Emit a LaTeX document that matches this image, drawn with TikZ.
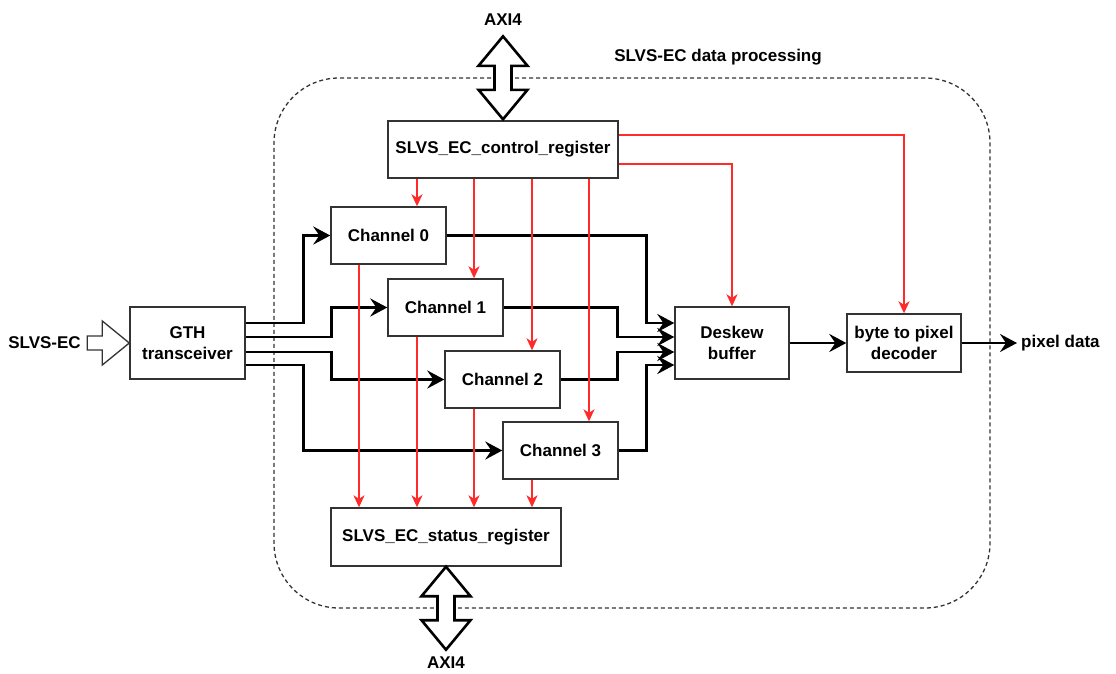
\documentclass[tikz,border=0pt]{standalone}
\usepackage{fontspec}
\setmainfont{Liberation Sans}
\usetikzlibrary{arrows.meta,calc}
\definecolor{boxgray}{HTML}{333333}
\definecolor{redc}{HTML}{FF2A2A}
\definecolor{dashc}{HTML}{333333}
\begin{document}
\begin{tikzpicture}[x=1pt,y=-1pt,
  font=\bfseries\fontsize{17}{21}\selectfont,
  box/.style={draw=boxgray, line width=1.4pt, fill=white, minimum width=115pt, minimum height=57pt, inner sep=0pt, align=center},
  blk/.style={line width=2.6pt, -{Stealth[length=17pt,width=18pt,inset=6pt]}},
  redl/.style={draw=redc, line width=1.5pt, -{Stealth[length=12pt,width=11pt,inset=3.5pt]}},
  lbl/.style={inner sep=0pt},
  axi/.pic={\draw[line width=2.6pt, fill=white, line join=miter]
      (0,0) -- (24.5,29.5) -- (8.5,29.5) -- (8.5,53.5) -- (24.5,53.5) -- (0,83)
      -- (-24.5,53.5) -- (-8.5,53.5) -- (-8.5,29.5) -- (-24.5,29.5) -- cycle;},
  inarrow/.pic={\draw[line width=1.3pt, draw=boxgray, fill=white, line join=miter]
      (0,0) -- (-27,-22) -- (-27,-7) -- (-42,-7) -- (-42,7) -- (-27,7) -- (-27,22) -- cycle;}
]
\useasboundingbox (0,0) rectangle (1116,673);

% container
\node[draw=dashc, line width=1.3pt, dash pattern=on 4pt off 3pt, rounded corners=65pt,
      minimum width=716pt, minimum height=530pt, inner sep=0pt] (frame) at (632,343) {};
\node[lbl] (ftitle) at (718,57) {SLVS-EC data processing};

% boxes
\node[box, minimum height=72pt] (gth) at (187.5,343) {GTH\\transceiver};
\node[box, minimum width=230pt] (ctrl) at (503,149.5) {SLVS\_EC\_control\_register};
\node[box] (ch0) at (388.5,235.5) {Channel 0};
\node[box] (ch1) at (445.5,307.5) {Channel 1};
\node[box] (ch2) at (502.5,379.5) {Channel 2};
\node[box] (ch3) at (560.5,450.5) {Channel 3};
\node[box, minimum width=230pt, minimum height=58pt] (stat) at (446,537) {SLVS\_EC\_status\_register};
\node[box, minimum width=114pt, minimum height=72pt] (desk) at (732,343) {Deskew\\buffer};
\node[box, minimum width=114pt, minimum height=58pt] (dec) at (904,343) {byte to pixel\\decoder};

% labels
\node[lbl] (inl) at (44.5,343) {SLVS-EC};
\node[lbl, anchor=west] (pix) at (1021,343) {pixel data};
\node[lbl] (axiT) at (503,20) {AXI4};
\node[lbl] (axiB) at (446,663) {AXI4};

% block arrows
\pic at (gth.west) {inarrow};
\pic at ([yshift=84pt]ctrl.north) {axi};
\pic at (stat.south) {axi};

% black data paths
\draw[blk] ([yshift=20pt]gth.east) -- ++(58,0) |- (ch0.west);
\draw[blk] ([yshift=6pt]gth.east) -- ++(86,0) |- (ch1.west);
\draw[blk] ([yshift=-9pt]gth.east) -- ++(86,0) |- (ch2.west);
\draw[blk] ([yshift=-22pt]gth.east) -- ++(58,0) |- (ch3.west);

\draw[blk] (ch0.east) -| ([xshift=-28pt,yshift=20pt]desk.west) -- ([yshift=20pt]desk.west);
\draw[blk] (ch1.east) -| ([xshift=-57pt,yshift=6pt]desk.west) -- ([yshift=6pt]desk.west);
\draw[blk] (ch2.east) -| ([xshift=-57pt,yshift=-9pt]desk.west) -- ([yshift=-9pt]desk.west);
\draw[blk] (ch3.east) -| ([xshift=-28pt,yshift=-22pt]desk.west) -- ([yshift=-22pt]desk.west);

\draw[blk] (desk.east) -- (dec.west);
\draw[blk] (dec.east) -- ([xshift=-4pt]pix.west);

% red control lines
\coordinate (r0) at ([xshift=-86pt]ctrl.south);
\coordinate (r1) at ([xshift=-29pt]ctrl.south);
\coordinate (r2) at ([xshift=29pt]ctrl.south);
\coordinate (r3) at ([xshift=86pt]ctrl.south);
\draw[redl] (r0) -- (r0 |- ch0.north);
\draw[redl] (r1) -- (r1 |- ch1.north);
\draw[redl] (r2) -- (r2 |- ch2.north);
\draw[redl] (r3) -- (r3 |- ch3.north);
\draw[redl] ([yshift=14.5pt]ctrl.east) -| (dec.north);
\draw[redl] ([yshift=-14.5pt]ctrl.east) -| (desk.north);

\coordinate (s0) at ([xshift=-29.5pt]ch0.south);
\coordinate (s1) at ([xshift=-28.5pt]ch1.south);
\coordinate (s2) at ([xshift=-28.5pt]ch2.south);
\coordinate (s3) at ([xshift=-28.5pt]ch3.south);
\draw[redl] (s0) -- (s0 |- stat.north);
\draw[redl] (s1) -- (s1 |- stat.north);
\draw[redl] (s2) -- (s2 |- stat.north);
\draw[redl] (s3) -- (s3 |- stat.north);
\end{tikzpicture}
\end{document}
